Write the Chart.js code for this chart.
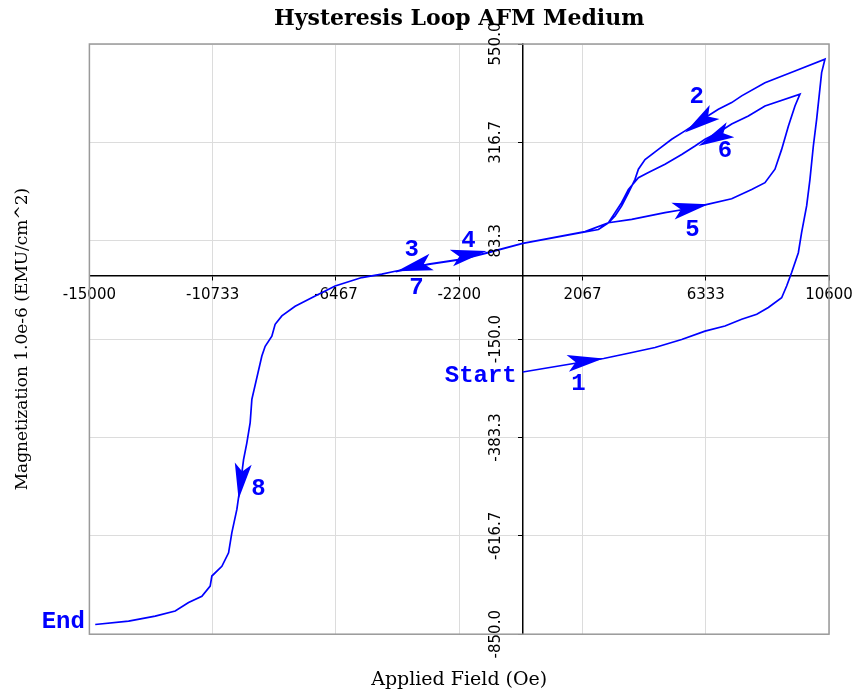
<!DOCTYPE html>
<html>
<head>
<meta charset="utf-8">
<script src="https://cdn.jsdelivr.net/npm/chart.js@4.4.1/dist/chart.umd.min.js"></script>
<style>
  html, body { margin: 0; padding: 0; background: #fff; }
  canvas { display: block; }
</style>
</head>
<body>
<canvas id="chart-hysteresis" width="852" height="696"></canvas>
<script>
/**
 * Hysteresis loop (AFM medium) — scatter with connecting line
 */
const X_TICKS = [-15000, -10733, -6467, -2200, 2067, 6333, 10600];
const X_TICK_LABELS = ['-15000', '-10733', '-6467', '-2200', '2067', '6333', '10600'];
const Y_TICKS = [-850, -616.7, -383.3, -150, 83.3, 316.7, 550];
const Y_TICK_LABELS = ['-850.0', '-616.7', '-383.3', '-150.0', '83.3', '316.7', '550.0'];

// leg 1: start -> first positive peak
const LEG1_FIELD = [0, 1400, 2800, 3700, 4578, 5501, 6308, 7000, 7577, 8100, 8501, 8961, 9134, 9307, 9539, 9653, 9826, 9941, 10058, 10172, 10345, 10460];
const LEG1_MAG = [-228, -212, -196, -183, -170, -151, -131, -119, -103, -91, -75, -52, -24, 8, 55, 103, 166, 229, 308, 371, 482, 514];
// leg 2: upper branch back down to the first negative turn
const LEG2_FIELD = [9422, 8384, 7577, 7231, 6771, 6308, 5616, 5155, 4695, 4232, 4003, 3885, 3657, 3425, 3194, 2965, 2619, 2156, 0, -1187, -2111, -3263, -4400];
const LEG2_MAG = [486, 458, 427, 411, 395, 375, 344, 324, 300, 276, 253, 229, 197, 166, 142, 126, 110, 104, 77, 55, 39, 27, 10];
// leg 3: minor loop up to second peak
const LEG3_FIELD = [-3263, -2111, -1187, 0, 2156, 2965, 3771, 4924, 5616, 6425, 7231, 7923, 8384, 8730, 8961, 9193, 9422, 9595];
const LEG3_MAG = [28, 40, 56, 77, 105, 126, 134, 150, 158, 170, 183, 205, 221, 253, 300, 355, 403, 431];
// leg 4: middle branch down to the end point
const LEG4_FIELD = [8384, 7809, 7231, 6771, 6308, 5962, 5501, 4924, 4349, 4003, 3657, 3425, 3194, 2965, 2156, 0, -1187, -2111, -3263, -4418, -4879, -5571, -6494, -7186, -7878, -8339, -8571, -8685, -8916, -9031, -9377, -9435, -9550, -9664, -9781, -9896, -10069, -10183, -10415, -10761, -10820, -11107, -11567, -12030, -12722, -13642, -14798];
const LEG4_MAG = [403, 379, 360, 340, 324, 308, 288, 265, 245, 233, 205, 174, 150, 126, 105, 77, 55, 39, 27, 11, 4, -4, -24, -48, -72, -95, -115, -143, -167, -190, -293, -348, -396, -436, -499, -554, -609, -657, -689, -712, -736, -760, -775, -795, -807, -819, -827];

// arrows along the path (tip and tail, data units)
const ARROW_TIP_X = [2792, 5616, -4360, -1246, 6425, 6079, -9837];
const ARROW_TIP_Y = [-196, 340, 11, 59, 170, 308, -530];
const ARROW_TAIL_X = [1522, 6771, -3090, -2353, 5155, 7231, -9688];
const ARROW_TAIL_Y = [-208, 395, 34, 44, 153, 348, -452];

// step numbers and start / end notes
const STEP_LABELS = ['1', '2', '3', '4', '5', '6', '7', '8'];
const STEP_X = [1925, 6020, -3840, -1880, 5870, 7000, -3680, -9146];
const STEP_Y = [-257, 425, 61, 83, 110, 296, -28, -506];
const NOTE_LABELS = ['Start', 'End'];
const NOTE_X = [-208, -15155];
const NOTE_Y = [-238, -820];

const LOOP_BLUE = '#0000ff';

function buildPoints() {
  const xs = [].concat(LEG1_FIELD, LEG2_FIELD, LEG3_FIELD, LEG4_FIELD);
  const ys = [].concat(LEG1_MAG, LEG2_MAG, LEG3_MAG, LEG4_MAG);
  return xs.map((x, i) => ({ x, y: ys[i] }));
}

/** 플롯 외곽 테두리 */
const framePlugin = {
  id: 'frame',
  beforeDatasetsDraw(chart) {
    const { ctx, chartArea: a } = chart;
    ctx.save();
    ctx.strokeStyle = '#9a9a9a';
    ctx.lineWidth = 1.5;
    ctx.strokeRect(a.left, a.top, a.right - a.left, a.bottom - a.top);
    ctx.restore();
  },
};

/** 세로축 눈금 글자 (회전) */
const yLabelPlugin = {
  id: 'yLabels',
  afterDraw(chart) {
    const { ctx, scales } = chart;
    const x0 = scales.x.getPixelForValue(0) - 27;
    ctx.save();
    ctx.font = '15px "DejaVu Sans"';
    ctx.fillStyle = '#000';
    ctx.textAlign = 'center';
    ctx.textBaseline = 'middle';
    Y_TICKS.forEach((v, i) => {
      ctx.save();
      ctx.translate(x0, scales.y.getPixelForValue(v));
      ctx.rotate(-Math.PI / 2);
      ctx.fillText(Y_TICK_LABELS[i], 0, 0);
      ctx.restore();
    });
    ctx.restore();
  },
};

/** 화살표와 번호 */
const notesPlugin = {
  id: 'notes',
  afterDatasetsDraw(chart) {
    const { ctx, scales } = chart;
    const sx = scales.x, sy = scales.y;
    ctx.save();
    ctx.fillStyle = LOOP_BLUE;
    ARROW_TIP_X.forEach((tx, i) => {
      const px = sx.getPixelForValue(tx), py = sy.getPixelForValue(ARROW_TIP_Y[i]);
      const qx = sx.getPixelForValue(ARROW_TAIL_X[i]), qy = sy.getPixelForValue(ARROW_TAIL_Y[i]);
      const ang = Math.atan2(py - qy, px - qx);
      ctx.save();
      ctx.translate(px, py);
      ctx.rotate(ang);
      ctx.beginPath();
      ctx.moveTo(0, 0);
      ctx.lineTo(-36, -8.5);
      ctx.lineTo(-28, 0);
      ctx.lineTo(-36, 8.5);
      ctx.closePath();
      ctx.fill();
      ctx.restore();
    });
    ctx.font = 'bold 24px "Liberation Mono"';
    ctx.textBaseline = 'middle';
    ctx.textAlign = 'center';
    STEP_LABELS.forEach((t, i) => {
      ctx.fillText(t, sx.getPixelForValue(STEP_X[i]), sy.getPixelForValue(STEP_Y[i]));
    });
    ctx.textAlign = 'right';
    NOTE_LABELS.forEach((t, i) => {
      ctx.fillText(t, sx.getPixelForValue(NOTE_X[i]), sy.getPixelForValue(NOTE_Y[i]));
    });
    ctx.restore();
  },
};

function createHysteresisChart() {
  const ctx = document.getElementById('chart-hysteresis');
  return new Chart(ctx, {
    type: 'scatter',
    data: {
      datasets: [{
        data: buildPoints(),
        showLine: true,
        borderColor: LOOP_BLUE,
        borderWidth: 1.7,
        pointRadius: 0,
        tension: 0,
      }],
    },
    options: {
      responsive: false,
      animation: false,
      layout: { padding: { top: 0, right: 23, bottom: 0, left: 0 } },
      plugins: {
        legend: { display: false },
        tooltip: { enabled: false },
        title: {
          display: true,
          fullSize: false,
          text: 'Hysteresis Loop AFM Medium',
          color: '#000',
          font: { family: 'DejaVu Serif', size: 22, weight: 'bold' },
          padding: { top: 6, bottom: 11.6 },
        },
      },
      scales: {
        x: {
          type: 'linear',
          position: { y: 0 },
          min: -15000,
          max: 10600,
          afterBuildTicks: (s) => { s.ticks = X_TICKS.map((v) => ({ value: v })); },
          afterFit: (s) => { s.paddingLeft = 0; s.paddingRight = 0; },
          ticks: {
            callback: (v, i) => X_TICK_LABELS[i],
            color: '#000',
            font: { family: 'DejaVu Sans', size: 15 },
            maxRotation: 0,
            minRotation: 0,
            autoSkip: false,
            padding: 6,
          },
          grid: { color: '#dcdcdc', tickColor: '#000', tickLength: 4 },
          border: { color: '#000', width: 1.5 },
        },
        y: {
          type: 'linear',
          position: { x: 0 },
          min: -850,
          max: 550,
          afterBuildTicks: (s) => { s.ticks = Y_TICKS.map((v) => ({ value: v })); },
          ticks: { display: false },
          grid: { color: '#dcdcdc', tickColor: '#000', tickLength: 4 },
          border: { color: '#000', width: 1.5 },
        },
        x2: {
          type: 'linear',
          position: 'bottom',
          min: -15000,
          max: 10600,
          ticks: { display: false },
          grid: { display: false, drawTicks: false },
          border: { display: false },
          title: {
            display: true,
            text: 'Applied Field (Oe)',
            color: '#000',
            font: { family: 'DejaVu Serif', size: 19 },
            padding: { top: 34, bottom: 5 },
          },
        },
        y2: {
          type: 'linear',
          position: 'left',
          min: -850,
          max: 550,
          ticks: { display: false },
          grid: { display: false, drawTicks: false },
          border: { display: false },
          title: {
            display: true,
            text: 'Magnetization 1.0e-6 (EMU/cm^2)',
            color: '#000',
            font: { family: 'DejaVu Serif', size: 17 },
            padding: { top: 12, bottom: 57 },
          },
        },
      },
    },
    plugins: [framePlugin, yLabelPlugin, notesPlugin],
  });
}

createHysteresisChart();
</script>
</body>
</html>
